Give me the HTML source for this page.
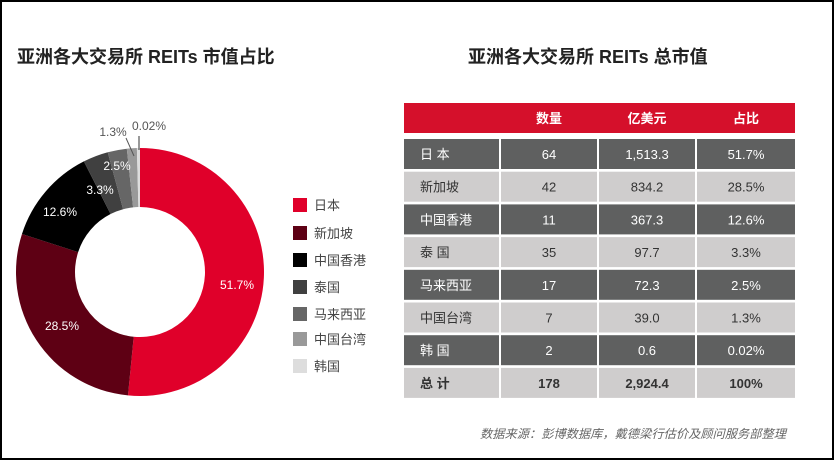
<!DOCTYPE html>
<html><head><meta charset="utf-8"><style>
body{margin:0;background:#fff;}
svg{display:block;font-family:"Liberation Sans","Noto Sans CJK SC",sans-serif;}
</style></head><body>
<svg id="s" width="836" height="462" viewBox="0 0 836 462" xmlns="http://www.w3.org/2000/svg">
<rect x="1" y="1" width="832" height="458" fill="#fff" stroke="#000" stroke-width="2"/>
<text x="17" y="63" font-size="18" font-weight="bold" fill="#222">亚洲各大交易所 REITs 市值占比</text>
<text x="468" y="63" font-size="18" font-weight="bold" fill="#222">亚洲各大交易所 REITs 总市值</text>
<g id="pie"></g>
<g font-size="12" fill="#fff" text-anchor="middle">
<text x="237" y="289">51.7%</text>
<text x="62" y="330">28.5%</text>
<text x="60" y="216">12.6%</text>
<text x="100" y="194">3.3%</text>
<text x="117" y="170">2.5%</text>
</g>
<g font-size="12" fill="#555" text-anchor="middle">
<text x="113" y="136">1.3%</text>
<text x="149" y="130">0.02%</text>
</g>
<line x1="126" y1="138" x2="134" y2="156" stroke="#555" stroke-width="1"/>
<line x1="139" y1="136" x2="139" y2="150" stroke="#333" stroke-width="1"/>
<g font-size="13" fill="#444">
<rect x="293" y="198" width="14" height="14" fill="#e0002a"/><text x="314" y="210">日本</text>
<rect x="293" y="226" width="14" height="14" fill="#5e0014"/><text x="314" y="238">新加坡</text>
<rect x="293" y="253" width="14" height="14" fill="#000"/><text x="314" y="265">中国香港</text>
<rect x="293" y="280" width="14" height="14" fill="#404040"/><text x="314" y="292">泰国</text>
<rect x="293" y="307" width="14" height="14" fill="#666"/><text x="314" y="319">马来西亚</text>
<rect x="293" y="332" width="14" height="14" fill="#999"/><text x="314" y="344">中国台湾</text>
<rect x="293" y="359" width="14" height="14" fill="#ddd"/><text x="314" y="371">韩国</text>
</g>
<rect x="404" y="103" width="391" height="30" fill="#d5102b"/>
<g font-size="13" font-weight="bold" fill="#fff" text-anchor="middle">
<text x="549" y="123">数量</text><text x="647" y="123">亿美元</text><text x="746" y="123">占比</text>
</g>
<g id="tbl"></g>
<text x="786" y="438" font-size="12" font-style="italic" fill="#666" text-anchor="end" textLength="306" lengthAdjust="spacingAndGlyphs">数据来源：彭博数据库，戴德梁行估价及顾问服务部整理</text>
</svg>
<script>
var NS="http://www.w3.org/2000/svg";
var cx=140,cy=272,R=124,r=65;
var d=[[51.7,"#e0002a"],[28.5,"#5e0014"],[12.6,"#000"],[3.3,"#404040"],[2.5,"#666"],[1.3,"#999"],[0.4,"#ddd"]];
var tot=0;d.forEach(function(x){tot+=x[0]});
var a=0,g=document.getElementById("pie");
d.forEach(function(x){
var a0=a,a1=a+x[0]/tot*2*Math.PI;a=a1;
function p(rr,t){return [cx+rr*Math.sin(t),cy-rr*Math.cos(t)]}
var lg=(a1-a0)>Math.PI?1:0;
var A=p(R,a0),B=p(R,a1),C=p(r,a1),D=p(r,a0);
var e=document.createElementNS(NS,"path");
e.setAttribute("d","M"+A+"A"+R+","+R+" 0 "+lg+" 1 "+B+"L"+C+"A"+r+","+r+" 0 "+lg+" 0 "+D+"Z");
e.setAttribute("fill",x[1]);g.appendChild(e);});
var rows=[["日 本","64","1,513.3","51.7%"],["新加坡","42","834.2","28.5%"],["中国香港","11","367.3","12.6%"],["泰 国","35","97.7","3.3%"],["马来西亚","17","72.3","2.5%"],["中国台湾","7","39.0","1.3%"],["韩 国","2","0.6","0.02%"],["总 计","178","2,924.4","100%"]];
var cols=[[404,95],[501,96],[599,96],[697,98]];
var t=document.getElementById("tbl");
rows.forEach(function(rw,i){
var y=139+i*32.7,dark=(i%2==0&&i<7),last=i==7;
cols.forEach(function(c,j){
var re=document.createElementNS(NS,"rect");
re.setAttribute("x",c[0]);re.setAttribute("y",y);re.setAttribute("width",c[1]);re.setAttribute("height",30);
re.setAttribute("fill",dark?"#5f6060":"#cfcdcd");t.appendChild(re);
var tx=document.createElementNS(NS,"text");
tx.setAttribute("x",j==0?c[0]+16:c[0]+c[1]/2);tx.setAttribute("y",y+20);
tx.setAttribute("font-size","13");if(j>0)tx.setAttribute("text-anchor","middle");
tx.setAttribute("fill",dark?"#fff":"#333");if(last)tx.setAttribute("font-weight","bold");
tx.textContent=rw[j];t.appendChild(tx);});});
</script>
</body></html>
